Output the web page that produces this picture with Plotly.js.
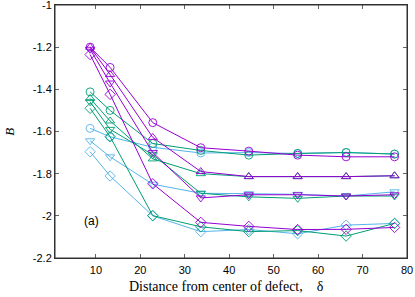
<!DOCTYPE html>
<html>
<head>
<meta charset="utf-8">
<script src="https://cdn.plot.ly/plotly-3.0.1.min.js"></script>
<style>html,body{margin:0;padding:0;background:#fff;}#chart{width:415px;height:297px;}</style>
</head>
<body>
<div id="chart"></div>
<script>
const xDist = [8.7, 13.2, 22.8, 33.6, 44.4, 55.4, 66.3, 77.2];

const purpleCircle  = [-1.200, -1.296, -1.558, -1.677, -1.693, -1.712, -1.720, -1.720];
const purpleTriUp   = [-1.200, -1.330, -1.628, -1.790, -1.814, -1.814, -1.814, -1.810];
const purpleTriDown = [-1.210, -1.370, -1.700, -1.915, -1.900, -1.900, -1.906, -1.900];
const purpleDiamond = [-1.235, -1.424, -1.848, -2.031, -2.050, -2.065, -2.064, -2.055];

const tealCircle  = [-1.412, -1.500, -1.657, -1.690, -1.712, -1.704, -1.700, -1.707];
const tealTriUp   = [-1.443, -1.550, -1.730, -1.800, -1.814, -1.814, -1.814, -1.810];
const tealTriDown = [-1.459, -1.590, -1.710, -1.893, -1.910, -1.917, -1.906, -1.906];
const tealDiamond = [-1.490, -1.625, -1.999, -2.052, -2.075, -2.070, -2.096, -2.036];

const blueCircle  = [-1.585, -1.625, -1.675, -1.702, -1.700, -1.704, -1.699, -1.707];
const blueTriDown = [-1.644, -1.720, -1.850, -1.893, -1.895, -1.898, -1.906, -1.886];
const blueDiamond = [-1.696, -1.811, -2.000, -2.075, -2.065, -2.085, -2.044, -2.036];

const xTickVals = [10, 20, 30, 40, 50, 60, 70, 80];
const xTickText = ['10', '20', '30', '40', '50', '60', '70', '80'];
const yTickVals = [-2.2, -2.0, -1.8, -1.6, -1.4, -1.2, -1.0];
const yTickText = ['-2.2', '-2', '-1.8', '-1.6', '-1.4', '-1.2', '-1'];

const PURPLE = '#9400d3', TEAL = '#009e73', BLUE = '#56b4e9';

function series(y, color, symbol) {
  return {
    x: xDist, y: y, type: 'scatter', mode: 'lines+markers',
    line: {color: color, width: 1},
    marker: {symbol: symbol, size: 8, color: color, line: {color: color, width: 0.9}},
    showlegend: false, cliponaxis: false
  };
}

const data = [
  series(blueCircle, BLUE, 'circle-open'),
  series(blueTriDown, BLUE, 'triangle-down-open'),
  series(blueDiamond, BLUE, 'diamond-open'),
  series(tealCircle, TEAL, 'circle-open'),
  series(tealTriUp, TEAL, 'triangle-up-open'),
  series(tealTriDown, TEAL, 'triangle-down-open'),
  series(tealDiamond, TEAL, 'diamond-open'),
  series(purpleCircle, PURPLE, 'circle-open'),
  series(purpleTriUp, PURPLE, 'triangle-up-open'),
  series(purpleTriDown, PURPLE, 'triangle-down-open'),
  series(purpleDiamond, PURPLE, 'diamond-open')
];

const tickFont = {family: 'Liberation Sans, Arial, sans-serif', size: 11, color: '#000'};
const serif = 'Liberation Serif, Times New Roman, serif';

const layout = {
  width: 415, height: 297,
  margin: {l: 55, r: 8, t: 5, b: 39},
  paper_bgcolor: '#fff', plot_bgcolor: '#fff',
  xaxis: {
    range: [0.8, 80], tickvals: xTickVals, ticktext: xTickText,
    ticks: 'inside', ticklen: 4, tickcolor: '#666', mirror: 'ticks',
    showline: true, linecolor: '#333', linewidth: 1,
    showgrid: false, zeroline: false, tickfont: tickFont,
    ticklabelstandoff: 2, ticklabeloverflow: 'allow'
  },
  yaxis: {
    range: [-2.2, -1.0], tickvals: yTickVals, ticktext: yTickText,
    ticks: 'inside', ticklen: 4, tickcolor: '#666', mirror: 'ticks',
    showline: true, linecolor: '#333', linewidth: 1,
    showgrid: false, zeroline: false, tickfont: tickFont,
    ticklabeloverflow: 'allow'
  },
  shapes: [
    {type: 'rect', xref: 'paper', yref: 'paper', x0: 0, x1: 1, y0: 0, y1: 1,
     line: {color: '#333', width: 1}, fillcolor: 'rgba(0,0,0,0)', layer: 'above'}
  ],
  annotations: [
    {xref: 'paper', yref: 'paper', x: 0.205, y: -0.112, xanchor: 'left', yanchor: 'middle',
     text: 'Distance from center of defect,\u00a0\u00a0\u00a0\u00a0\u03b4', showarrow: false,
     font: {family: serif, size: 14, color: '#000'}},
    {xref: 'paper', yref: 'paper', x: -0.13, y: 0.5, xanchor: 'center', yanchor: 'middle',
     text: '<i>B</i>', textangle: -90, showarrow: false,
     font: {family: serif, size: 13, color: '#000'}},
    {xref: 'x', yref: 'y', x: 9.1, y: -2.025, text: '(a)', showarrow: false,
     font: {family: 'Liberation Sans, Arial, sans-serif', size: 12, color: '#000'}}
  ]
};

Plotly.newPlot('chart', data, layout, {staticPlot: true, displayModeBar: false});
</script>
</body>
</html>
